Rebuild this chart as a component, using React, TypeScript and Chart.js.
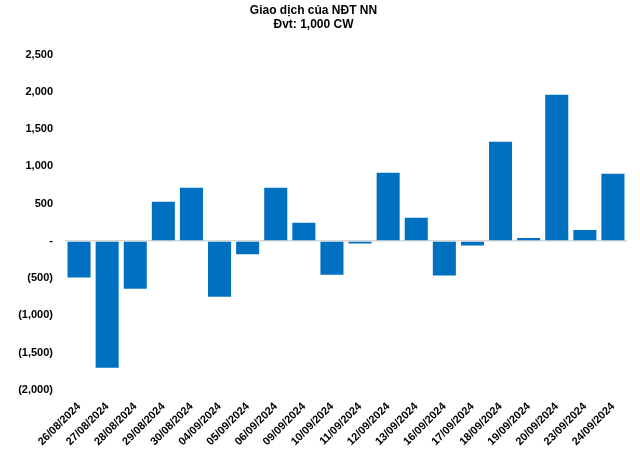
import React, { useEffect, useRef } from "react";
import { Chart, registerables } from "chart.js";

Chart.register(...registerables);

const categories = [
  "26/08/2024", "27/08/2024", "28/08/2024", "29/08/2024", "30/08/2024",
  "04/09/2024", "05/09/2024", "06/09/2024", "09/09/2024", "10/09/2024",
  "11/09/2024", "12/09/2024", "13/09/2024", "16/09/2024", "17/09/2024",
  "18/09/2024", "19/09/2024", "20/09/2024", "23/09/2024", "24/09/2024",
];
const netValues = [
  -490, -1700, -640, 525, 715, -750, -180, 712, 245, -455,
  -35, 915, 310, -465, -60, 1330, 40, 1960, 148, 900,
];
const titleLines = ["Giao dịch của NĐT NN", "Đvt: 1,000 CW"];
const yMin = -2000;
const yMax = 2500;
const yStep = 500;

function fmt(v: number): string {
  if (v === 0) return "-";
  const s = Math.abs(v).toLocaleString("en-US");
  return v < 0 ? `(${s})` : s;
}

export default function App() {
  const ref = useRef<HTMLCanvasElement | null>(null);
  useEffect(() => {
    if (!ref.current) return;
    const font = { family: "'Liberation Sans', Arial, sans-serif", weight: "bold" as const, size: 11 };
    const chart = new Chart(ref.current, {
      type: "bar",
      data: {
        labels: categories,
        datasets: [
          {
            data: netValues,
            backgroundColor: "#0070C0",
            categoryPercentage: 1,
            barPercentage: 0.82,
          },
        ],
      },
      options: {
        animation: false,
        responsive: false,
        maintainAspectRatio: false,
        layout: { padding: { top: 4, right: 13, left: 0, bottom: 0 } },
        plugins: {
          legend: { display: false },
          tooltip: { enabled: false },
          title: {
            display: true,
            text: titleLines,
            color: "#000",
            font: { family: "'Liberation Sans', Arial, sans-serif", weight: "bold", size: 12, lineHeight: 1.15 },
            padding: { top: 0, bottom: 23 },
          },
        },
        scales: {
          x: {
            offset: true,
            grid: { display: false },
            border: { display: false },
            ticks: {
              color: "#000",
              font,
              maxRotation: 45,
              minRotation: 45,
              autoSkip: false,
              padding: 2,
            },
            afterFit: (s: any) => {
              s.height = 60;
            },
          },
          y: {
            min: yMin,
            max: yMax,
            ticks: {
              stepSize: yStep,
              color: "#000",
              font,
              padding: 12,
              callback: (v: any) => fmt(Number(v)),
            },
            grid: {
              drawTicks: false,
              lineWidth: (ctx: any) => (ctx.tick && ctx.tick.value === 0 ? 1.5 : 0),
              color: "#d9d9d9",
            },
            border: { display: false },
            afterFit: (s: any) => {
              s.width = 65;
            },
          },
        },
      },
    });
    return () => chart.destroy();
  }, []);
  return (
    <div style={{ position: "fixed", left: 0, top: 0, width: 640, height: 450, background: "#fff" }}>
      <canvas ref={ref} width={640} height={450} style={{ width: 640, height: 450 }} />
    </div>
  );
}
